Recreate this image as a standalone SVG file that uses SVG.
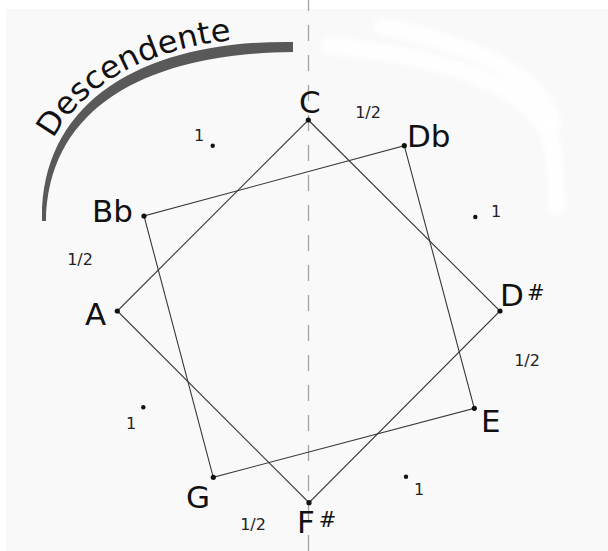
<svg xmlns="http://www.w3.org/2000/svg" width="608" height="551" viewBox="0 0 608 551">
<style>
.edge{stroke:#383838;stroke-width:1.1;fill:none}
.dot{fill:#111}
.note{font-family:"DejaVu Sans","Liberation Sans",sans-serif;font-size:31px;fill:#111}
.sharp{font-size:21px}
.num{font-family:"DejaVu Sans","Liberation Sans",sans-serif;font-size:16px;fill:#222}
.smear{stroke:#ffffff;stroke-width:17;stroke-linecap:round;stroke-linejoin:round;fill:none;opacity:0.85}
</style>
<defs>
<filter id="soft" x="-10%" y="-10%" width="120%" height="120%"><feGaussianBlur stdDeviation="2"/></filter>
<path id="textArc" d="M34,220 C34,95 145,35 293,37"/>
</defs>
<rect x="0" y="0" width="608" height="551" fill="#ffffff"/>
<rect x="6" y="9" width="602" height="542" fill="#faf9fa"/>
<g id="smear" filter="url(#soft)">
<path class="smear" d="M330,46 C380,50 440,60 490,82 C530,100 550,125 553,150 C556,175 557,195 557,207"/>
<path class="smear" d="M382,27 C430,35 470,48 505,68 C535,86 550,105 553,125"/>
</g>
<line x1="308.5" y1="-5" x2="308.5" y2="551" stroke="#a3a3a3" stroke-width="1.3" stroke-dasharray="16 14"/>
<g id="arc">
<path d="M293,42 C148,40 40,98 42,221 L46,221 C48,104 152,53 293,52 Z" fill="#595959"/>
<text font-family="DejaVu Sans, sans-serif" font-size="31" fill="#111"><textPath href="#textArc" startOffset="84" textLength="212" lengthAdjust="spacingAndGlyphs">Descendente</textPath></text>
</g>
<g id="connectors">
<polygon class="edge" points="308.3,120 500,311 309,502.7 117.3,311"/>
<polygon class="edge" points="404.3,145.7 474.3,408.3 213.3,477.3 144,216"/>
</g>
<g id="node-C"><circle class="dot" cx="308.3" cy="120" r="2.6"/><text class="note" x="299" y="113">C</text></g>
<g id="node-Db"><circle class="dot" cx="404.3" cy="145.7" r="2.6"/><text class="note" x="407" y="147">Db</text></g>
<g id="node-DSharp"><circle class="dot" cx="500" cy="311" r="2.6"/><text class="note" x="500" y="306">D<tspan class="sharp" dx="3" dy="-6">#</tspan></text></g>
<g id="node-E"><circle class="dot" cx="474.3" cy="408.3" r="2.6"/><text class="note" x="481" y="432">E</text></g>
<g id="node-FSharp"><circle class="dot" cx="309" cy="502.7" r="2.6"/><text class="note" x="297" y="533">F<tspan class="sharp" dx="4" dy="-6">#</tspan></text></g>
<g id="node-G"><circle class="dot" cx="213.3" cy="477.3" r="2.6"/><text class="note" x="186" y="508">G</text></g>
<g id="node-A"><circle class="dot" cx="117.3" cy="311" r="2.6"/><text class="note" x="85" y="325">A</text></g>
<g id="node-Bb"><circle class="dot" cx="144" cy="216" r="2.6"/><text class="note" x="92" y="222">Bb</text></g>
<g id="steps">
<text class="num" x="368" y="118" text-anchor="middle">1/2</text>
<text class="num" x="80" y="265" text-anchor="middle">1/2</text>
<text class="num" x="527" y="366" text-anchor="middle">1/2</text>
<text class="num" x="253" y="530" text-anchor="middle">1/2</text>
<circle class="dot" cx="212.7" cy="145.7" r="2.2"/><text class="num" x="199" y="141" text-anchor="middle">1</text>
<circle class="dot" cx="475.3" cy="217" r="2.2"/><text class="num" x="496" y="217" text-anchor="middle">1</text>
<circle class="dot" cx="143.3" cy="407.3" r="2.2"/><text class="num" x="131" y="429" text-anchor="middle">1</text>
<circle class="dot" cx="406" cy="476.7" r="2.2"/><text class="num" x="419" y="495" text-anchor="middle">1</text>
</g>
</svg>
